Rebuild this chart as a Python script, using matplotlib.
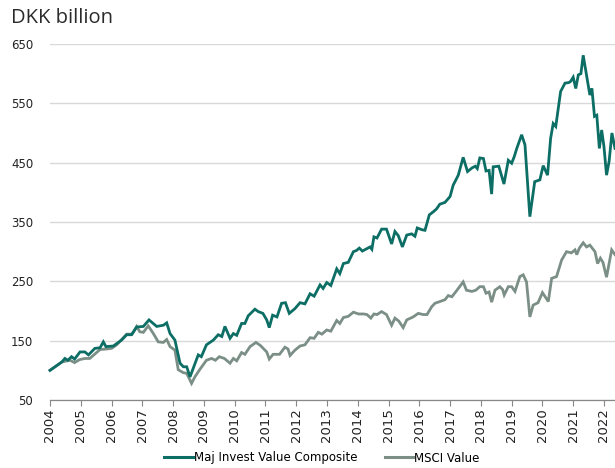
import matplotlib
matplotlib.use("Agg")
import matplotlib.pyplot as plt
from matplotlib.lines import Line2D

# Month offsets from start of series (category axis, 12 months per labelled year)
maj_t = [0, 4.6, 5.8, 7, 8.4, 9.6, 11.7, 13.6, 15, 17.5, 19.5, 20.8, 21.8, 24.7, 27.9, 29.9,
         31.8, 33.8, 36.4, 38.6, 41.6, 44.2, 45.5, 46.8, 48.7, 50.7, 52, 53.3, 54.6, 55.9,
         57.8, 59, 61, 63.7, 65.6, 67, 68.2, 70.2, 71.5, 72.8, 74.7, 76, 77.3, 79.9, 81.2,
         83, 84.5, 85.5, 86.8, 88.5, 90.3, 91.8, 93.3, 95.5, 97.5, 99.4, 101.4, 103, 105.3,
         106.5, 107.9, 109.5, 111.8, 113, 114.4, 116.3, 118.3, 119.5, 120.6, 121.8, 124.8,
         125.5, 126.3, 127.5, 129.3, 131.2, 133.2, 134.5, 135.8, 137.4, 139.1, 141, 142.3,
         143.2, 145, 146.2, 147.9, 149.4, 150.7, 152, 154, 156, 157.2, 159.2, 161.1, 162.8,
         164.5, 165.8, 166.6, 167.6, 169, 170, 171.2, 172.2, 172.8, 175, 177, 178.7, 180,
         181, 182, 183.9, 185.2, 187.1, 189, 191, 192.3, 194, 195.2, 196.2, 197.2, 199.1,
         200.8, 202.3, 203, 204, 205, 206, 207, 207.9, 210.5, 211.3, 212.3, 213.2, 214.2,
         215.1, 216, 217, 218, 219.1, 220.3]
maj_v = [100, 114, 120, 117, 123, 119, 131, 131, 126, 137, 138, 148, 140, 141, 151, 160,
         160, 173, 174, 185, 174, 176, 180, 162, 151, 112, 106, 106, 89, 104,
         126, 123, 143, 151, 160, 157, 174, 154, 162, 159, 179, 179, 192, 203, 199,
         196, 185, 172, 193, 190, 213, 214, 196, 204, 214, 212, 229, 225, 244,
         238, 248, 243, 271, 263, 280, 282, 300, 302, 306, 301, 308,
         304, 325, 323, 338, 338, 313, 334, 327, 308, 328, 330, 326,
         340, 337, 336, 362, 367, 372, 380, 383, 393, 412, 429, 459, 435,
         441, 444, 440, 458, 457, 436, 437, 397, 443, 444, 414, 454, 449,
         460, 474, 497, 480, 359, 418, 421, 445, 429, 491, 516, 511, 570,
         584, 585, 587, 594, 575, 598, 600, 631, 564, 575, 528, 530, 474,
         505, 477, 429, 452, 500, 474]

msci_t = [0, 4.6, 7.8, 9.6, 11.5, 13.6, 15.5, 19.5, 22, 24, 26, 29.9, 32, 33.8, 35, 36.4,
          38.3, 40.3, 42.2, 44.2, 45.5, 46.8, 48.7, 50, 52, 53.3, 55.2, 56.5, 58.5, 61, 63,
          64.5, 66, 68, 70.2, 71.5, 72.8, 74.7, 76, 78, 80.3, 82, 84.5, 85.5, 87, 89.5, 91.6,
          92.8, 93.6, 95.5, 97.5, 99.4, 101.4, 103, 104.6, 106, 107.9, 109.5, 111.8, 113,
          114.4, 116.3, 118.3, 120.3, 122.3, 123.6, 125.1, 126.3, 127.5, 129.3, 131.2, 133.2,
          134.5, 136, 137.7, 139.1, 141.6, 143.6, 145.5, 147, 148.8, 150.1, 152, 154, 155.3,
          156.7, 158.5, 161.1, 162.4, 164.5, 166, 167.6, 169, 170, 171.2, 172.2, 173.5,
          175.4, 176.5, 177.1, 178.7, 180, 181.3, 183.2, 184.5, 185.8, 187.1, 188.4, 190.3,
          192, 194.3, 195.6, 197.5, 199.5, 201.4, 203.3, 204.7, 205.4, 206.4, 207.9, 209.2,
          210.5, 211.4, 212.5, 213.5, 214.6, 215.6, 217, 219, 220.3]
msci_v = [100, 114, 117, 113, 118, 120, 120, 135, 136, 137, 143, 161, 161, 174, 165, 164,
          175, 162, 148, 147, 152, 140, 134, 101, 96, 95, 78, 89, 102, 117, 120,
          117, 123, 120, 112, 120, 116, 130, 127, 140, 147, 142, 131, 119, 127, 127, 139,
          136, 125, 134, 141, 143, 155, 154, 164, 161, 168, 166, 184, 179,
          189, 191, 198, 195, 195, 194, 188, 195, 194, 199, 194, 176,
          188, 183, 172, 185, 190, 196, 194, 194, 207, 213, 216, 219, 226,
          224, 234, 249, 235, 233, 235, 241, 241, 230, 232, 215, 235,
          241, 236, 227, 241, 241, 233, 258, 261, 249, 190, 210, 214,
          231, 216, 255, 258, 286, 300, 298, 303, 295, 306, 315, 308,
          311, 306, 300, 280, 289, 282, 257, 303, 295]

year_labels = [str(y) for y in range(2004, 2023)]
y_ticks = [50, 150, 250, 350, 450, 550, 650]

series_names = ["Maj Invest Value Composite", "MSCI Value"]
teal = "#0c6e64"
grey = "#7b8f87"

fig = plt.figure(figsize=(6.15, 4.68), dpi=100)
ax = fig.add_axes([50 / 615, 1 - 400 / 468, 565 / 615, 356 / 468])

ax.plot(maj_t, maj_v, color=teal, lw=2.0, solid_joinstyle="miter", zorder=3, clip_on=False)
ax.plot(msci_t, msci_v, color=grey, lw=2.0, solid_joinstyle="miter", zorder=2, clip_on=False)

ax.set_xlim(0, 220.3)
ax.set_ylim(50, 650)
ax.set_yticks(y_ticks)
ax.set_yticklabels([str(v) for v in y_ticks], fontsize=8.5, color="#222222")
ax.set_xticks([12 * i for i in range(len(year_labels))])
ax.set_xticklabels(year_labels, rotation=90, fontsize=9.5, color="#222222")

ax.grid(axis="y", color="#d9d9d9", lw=1.0)
ax.set_axisbelow(True)
for s in ["top", "right", "left"]:
    ax.spines[s].set_visible(False)
ax.spines["bottom"].set_color("#888888")
ax.spines["bottom"].set_linewidth(0.9)
ax.tick_params(axis="y", length=0, pad=12)
ax.tick_params(axis="x", length=4, color="#888888", width=0.8, pad=2)

fig.text(11 / 615, 1 - 18 / 468, "DKK billion", fontsize=14.5, color="#2a2a2a",
         va="center", ha="left", family="Open Sans")

handles = [Line2D([0], [0], color=teal, lw=2.2), Line2D([0], [0], color=grey, lw=2.2)]
fig.legend(handles, series_names, loc="center", bbox_to_anchor=(322 / 615, 1 - 458 / 468),
           ncol=2, frameon=False, handlelength=2.4, handletextpad=0.1,
           columnspacing=2.3, prop={"family": "DejaVu Sans Condensed", "size": 8.5})

fig.savefig("out.png", dpi=100)
